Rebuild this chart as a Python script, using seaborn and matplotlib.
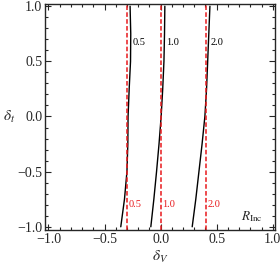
import matplotlib
matplotlib.use("Agg")
import matplotlib.pyplot as plt
import seaborn as sns
import pandas as pd
from matplotlib.ticker import MultipleLocator

# Daten
delta_t = [-1.0, -0.75, -0.5, -0.25, 0.0, 0.25, 0.5, 0.75, 1.0]
curve_05 = [-0.355, -0.322, -0.300, -0.292, -0.290, -0.280, -0.268, -0.266, -0.272]
curve_10 = [-0.087, -0.060, -0.036, -0.014, 0.005, 0.019, 0.030, 0.035, 0.038]
curve_20 = [0.282, 0.314, 0.342, 0.370, 0.395, 0.410, 0.420, 0.430, 0.440]
curve_names = ["0.5", "1.0", "2.0"]
ref_lines = [-0.297, 0.0, 0.405]

rows = []
for name, xs in zip(curve_names, [curve_05, curve_10, curve_20]):
    for x, y in zip(xs, delta_t):
        rows.append({"dV": x, "dt": y, "R": name})
df = pd.DataFrame(rows)

sns.set_style("ticks")
plt.rcParams["font.family"] = ["Liberation Serif", "DejaVu Serif"]
plt.rcParams["mathtext.fontset"] = "stix"

fig = plt.figure(figsize=(2.8, 2.66), dpi=100)
ax = fig.add_axes([0.161, 0.135, 0.821, 0.85])

sns.lineplot(data=df, x="dV", y="dt", units="R", estimator=None, sort=False,
             color="black", linewidth=1.0, ax=ax)
for xv in ref_lines:
    ax.axvline(xv, color="#e8191c", linestyle=(0, (3, 1.5)), linewidth=1.1)

for name, xs in zip(curve_names, [curve_05, curve_10, curve_20]):
    ax.text(xs[-2] + 0.015, 0.67, name, fontsize=7.5, color="black", va="center")
for name, xv in zip(curve_names, ref_lines):
    ax.text(xv + 0.015, -0.80, name, fontsize=7.5, color="#e8191c", va="center")
ax.text(0.72, -0.91, r"$R_{\mathrm{Inc}}$", fontsize=9.5, va="center")

ax.set_xlim(-1.03, 1.02)
ax.set_ylim(-1.03, 1.02)
ax.xaxis.set_major_locator(MultipleLocator(0.5))
ax.yaxis.set_major_locator(MultipleLocator(0.5))
ax.xaxis.set_minor_locator(MultipleLocator(0.1))
ax.yaxis.set_minor_locator(MultipleLocator(0.1))
ax.tick_params(which="both", direction="in", top=True, right=True, labelsize=10, width=0.8)
ax.tick_params(which="major", length=4, pad=2)
ax.tick_params(which="minor", length=2)
for s in ax.spines.values():
    s.set_linewidth(1.0)
ax.set_xlabel(r"$\delta_V$", fontsize=11, labelpad=2)
ax.set_ylabel(r"$\delta_t$", fontsize=11, rotation=0, labelpad=6, va="center")

fig.savefig("out.png", dpi=100)
